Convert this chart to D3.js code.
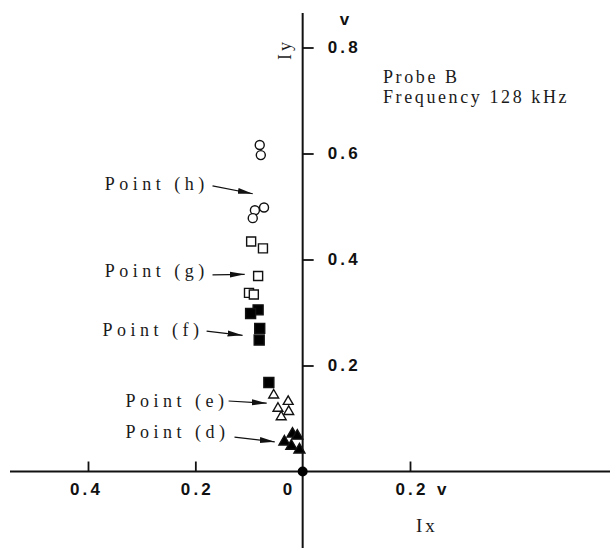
<!DOCTYPE html>
<html>
<head>
<meta charset="utf-8">
<script src="https://cdn.jsdelivr.net/npm/d3@7"></script>
<style>
  body { margin: 0; background: #fff; }
  .tick_label { font-family: "Liberation Sans", Arial, sans-serif; font-weight: bold; font-size: 17px; letter-spacing: 3.2px; fill: #111; }
  .type_text { font-family: "Liberation Serif", "DejaVu Serif", serif; font-size: 18px; letter-spacing: 4.5px; fill: #1a1a1a; }
  .note_text { letter-spacing: 2.6px; }
</style>
</head>
<body>
<svg id="view_svg_container" width="610" height="548"></svg>
<script>

// DATA
// ========================================================================
// Ix (negative = left of the Iy axis) and Iy, in volts
var point_h_ix = [-0.080, -0.078, -0.072, -0.089, -0.093];
var point_h_iy = [ 0.616,  0.597,  0.498,  0.493,  0.478];

var point_g_ix = [-0.096, -0.074, -0.083, -0.100, -0.091];
var point_g_iy = [ 0.434,  0.421,  0.369,  0.337,  0.334];

var point_f_ix = [-0.083, -0.097, -0.080, -0.081, -0.063];
var point_f_iy = [ 0.305,  0.298,  0.270,  0.248,  0.168];

var point_e_ix = [-0.054, -0.027, -0.046, -0.026, -0.040];
var point_e_iy = [ 0.144,  0.132,  0.119,  0.113,  0.103];

var point_d_ix = [-0.019, -0.010, -0.034, -0.021, -0.006];
var point_d_iy = [ 0.071,  0.067,  0.056,  0.048,  0.041];

var x_tick_values = [-0.4, -0.2, 0, 0.2];
var y_tick_values = [0.2, 0.4, 0.6, 0.8];

var annotation_labels = ["Point (h)", "Point (g)", "Point (f)", "Point (e)", "Point (d)"];
// label anchor and arrow start / tip, in data units
var annotation_text_ix  = [-0.369, -0.369, -0.373, -0.330, -0.330];
var annotation_text_iy  = [ 0.531,  0.367,  0.256,  0.122,  0.063];
var annotation_from_ix  = [-0.168, -0.168, -0.179, -0.138, -0.127];
var annotation_from_iy  = [ 0.539,  0.371,  0.265,  0.133,  0.065];
var annotation_to_ix    = [-0.093, -0.108, -0.112, -0.067, -0.052];
var annotation_to_iy    = [ 0.524,  0.372,  0.257,  0.129,  0.056];

var note_lines = ["Probe B", "Frequency 128 kHz"];
// ========================================================================


var svg = d3.select("#view_svg_container");

var x = d3.scaleLinear().domain([-0.4, 0.2]).range([88, 410]);
var y = d3.scaleLinear().domain([0, 0.8]).range([471.5, 47.5]);


function makeSeries(ix, iy) {
  return ix.map(function (d, i) { return {"ix" : d, "iy" : iy[i]}; });
}

var series = [
  {"data" : makeSeries(point_h_ix, point_h_iy), "type" : d3.symbolCircle,   "size" : 64,  "filled" : false},
  {"data" : makeSeries(point_g_ix, point_g_iy), "type" : d3.symbolSquare,   "size" : 81,  "filled" : false},
  {"data" : makeSeries(point_f_ix, point_f_iy), "type" : d3.symbolSquare,   "size" : 100, "filled" : true},
  {"data" : makeSeries(point_e_ix, point_e_iy), "type" : d3.symbolTriangle, "size" : 42,  "filled" : false},
  {"data" : makeSeries(point_d_ix, point_d_iy), "type" : d3.symbolTriangle, "size" : 52,  "filled" : true}
];


// Axes
// -------------------------------------------------------------------------
svg.append("line")
    .attr("x1", 10).attr("x2", 610)
    .attr("y1", y(0)).attr("y2", y(0))
    .style("stroke", "#111").style("stroke-width", 2);

svg.append("line")
    .attr("x1", x(0)).attr("x2", x(0))
    .attr("y1", 13).attr("y2", 548)
    .style("stroke", "#111").style("stroke-width", 2);

var x_axis = svg.append("g")
    .attr("transform", "translate(0," + y(0) + ")")
    .call(d3.axisBottom(x)
            .tickValues(x_tick_values)
            .tickSize(-10)
            .tickPadding(11.5)
            .tickFormat(function (d) { return d == 0 ? "0" : d3.format(".1f")(Math.abs(d)); }));

x_axis.select(".domain").remove();
x_axis.selectAll(".tick line").style("stroke", "#111").style("stroke-width", 1.8)
    .filter(function (d) { return d == 0; }).remove();
x_axis.selectAll(".tick text").attr("class", "tick_label")
    .attr("dx", function (d) { return d == 0 ? -14 : (d == -0.4 ? -2 : 1.5); });

var y_axis = svg.append("g")
    .attr("transform", "translate(" + x(0) + ",0)")
    .call(d3.axisRight(y)
            .tickValues(y_tick_values)
            .tickSize(11)
            .tickPadding(14)
            .tickFormat(d3.format(".1f")));

y_axis.select(".domain").remove();
y_axis.selectAll(".tick line").style("stroke", "#111").style("stroke-width", 1.8);
y_axis.selectAll(".tick text").attr("class", "tick_label");

// unit marks
svg.append("text").attr("class", "tick_label")
    .attr("x", x(0) + 37).attr("y", 25)
    .text("v");

svg.append("text").attr("class", "tick_label")
    .attr("x", x(0.2) + 27).attr("y", y(0) + 23.5)
    .text("v");

// axis names
svg.append("text").attr("class", "type_text")
    .attr("transform", "translate(" + (x(0) - 12) + ",60) rotate(-90)")
    .style("letter-spacing", "3px")
    .text("Iy");

svg.append("text").attr("class", "type_text")
    .attr("x", x(0.2) + 6).attr("y", 532)
    .style("font-size", "19px")
    .style("letter-spacing", "3px")
    .text("Ix");

// origin dot
svg.append("circle")
    .attr("cx", x(0)).attr("cy", y(0)).attr("r", 5)
    .style("fill", "#000");


// Data points
// -------------------------------------------------------------------------
series.forEach(function (s) {
  svg.append("g").selectAll("path")
      .data(s.data).enter()
      .append("path")
        .attr("transform", function (d) { return "translate(" + x(d.ix) + "," + y(d.iy) + ")"; })
        .attr("d", d3.symbol().type(s.type).size(s.size))
        .style("fill", s.filled ? "#000" : "#fff")
        .style("stroke", "#111")
        .style("stroke-width", 1.4);
});


// Annotations
// -------------------------------------------------------------------------
svg.append("defs").append("marker")
    .attr("id", "arrow_head")
    .attr("markerUnits", "userSpaceOnUse")
    .attr("markerWidth", 16).attr("markerHeight", 8)
    .attr("refX", 15).attr("refY", 4)
    .attr("orient", "auto")
  .append("path")
    .attr("d", "M0,1 L15,4 L0,7 Z")
    .style("fill", "#111");

var annotations = annotation_labels.map(function (d, i) {
  return {"label" : d,
          "tx" : annotation_text_ix[i], "ty" : annotation_text_iy[i],
          "fx" : annotation_from_ix[i], "fy" : annotation_from_iy[i],
          "ex" : annotation_to_ix[i],   "ey" : annotation_to_iy[i]};
});

svg.append("g").selectAll("text")
    .data(annotations).enter()
    .append("text")
      .attr("class", "type_text")
      .attr("x", function (d) { return x(d.tx); })
      .attr("y", function (d) { return y(d.ty); })
      .text(function (d) { return d.label; });

svg.append("g").selectAll("line")
    .data(annotations).enter()
    .append("line")
      .attr("x1", function (d) { return x(d.fx); })
      .attr("y1", function (d) { return y(d.fy); })
      .attr("x2", function (d) { return x(d.ex); })
      .attr("y2", function (d) { return y(d.ey); })
      .style("stroke", "#111")
      .style("stroke-width", 1.2)
      .attr("marker-end", "url(#arrow_head)");

// Probe note
svg.append("g").selectAll("text")
    .data(note_lines).enter()
    .append("text")
      .attr("class", "type_text note_text")
      .attr("x", 383)
      .attr("y", function (d, i) { return 83 + i * 20; })
      .text(function (d) { return d; });

</script>
</body>
</html>
